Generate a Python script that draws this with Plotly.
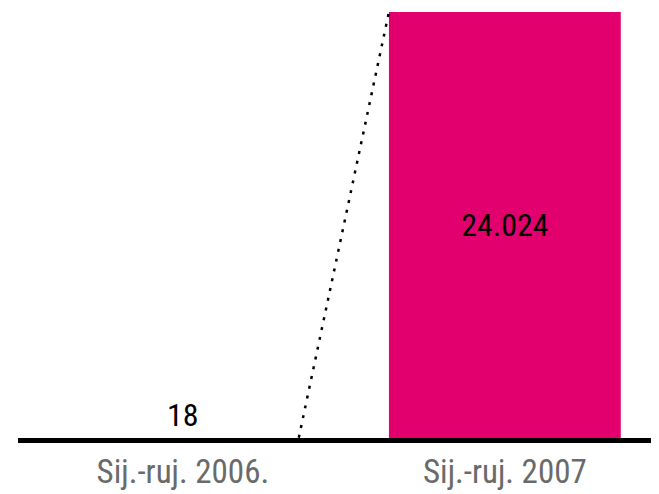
import plotly.graph_objects as go

categories = ["Sij.-ruj. 2006.", "Sij.-ruj. 2007"]
values = [18, 24024]
value_labels = ["18", "24.024"]

FONT = "Liberation Sans Narrow, Roboto Condensed, Arial Narrow, Liberation Sans, sans-serif"
x_idx = [0, 1]
bw = 0.72

fig = go.Figure()
fig.add_trace(go.Bar(
    x=x_idx, y=values, width=bw,
    marker=dict(color=["#ffffff", "#e2006f"], line=dict(width=0)),
    text=value_labels, textposition=["outside", "inside"],
    insidetextanchor="middle",
    textfont=dict(family=FONT, size=[32, 32], color="#000000"),
    cliponaxis=False, showlegend=False, hoverinfo="skip",
))
fig.add_trace(go.Scatter(
    x=[x_idx[0] + bw / 2, x_idx[1] - bw / 2], y=[values[0], values[1]],
    mode="lines", line=dict(color="#000000", width=2.5, dash="3px,7px"),
    showlegend=False, hoverinfo="skip", cliponaxis=False,
))
fig.update_layout(
    width=680, height=494,
    margin=dict(l=10, r=0, t=4, b=64),
    paper_bgcolor="#ffffff", plot_bgcolor="#ffffff",
    xaxis=dict(range=[-0.512, -0.512 + 670 / 322], tickvals=x_idx, ticktext=categories,
               showgrid=False, zeroline=False, showline=True, linecolor="#000000",
               linewidth=5, ticks="", tickfont=dict(family=FONT, size=33, color="#6a6a6a")),
    yaxis=dict(range=[0, 24024], visible=False, showgrid=False, zeroline=False),
    uniformtext=dict(minsize=8, mode=False),
)
fig.write_html("out.html")
